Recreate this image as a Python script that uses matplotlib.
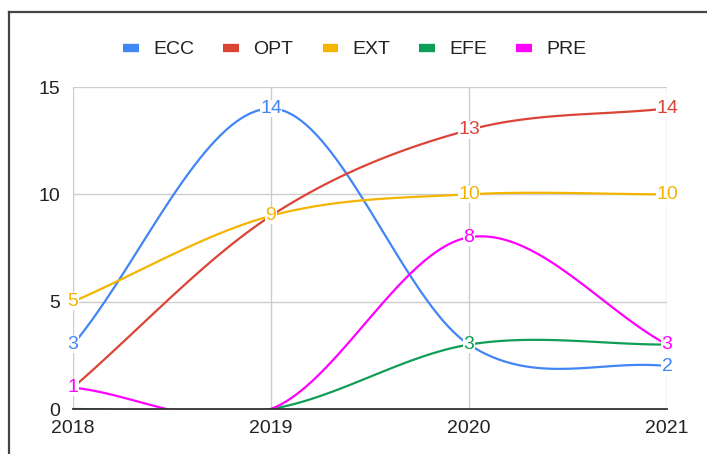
import numpy as np
import matplotlib.pyplot as plt
from matplotlib.lines import Line2D

plt.rcParams['font.family'] = ['Liberation Sans', 'DejaVu Sans']

years = [2018, 2019, 2020, 2021]
names = ['ECC', 'OPT', 'EXT', 'EFE', 'PRE']
ecc = [3, 14, 3, 2]
opt = [1, 9, 13, 14]
ext = [5, 9, 10, 10]
efe = [0, 0, 3, 3]
pre = [1, 0, 8, 3]
colors = ['#4285F4', '#DB4437', '#F4B400', '#0F9D58', '#FF00FF']
series = [ecc, opt, ext, efe, pre]


def smooth(x, y, n=40):
    # cubic hermite through the points, like the sheets "smooth" option
    x = np.asarray(x, float)
    y = np.asarray(y, float)
    m = np.zeros_like(y)
    m[1:-1] = (y[2:] - y[:-2]) / (x[2:] - x[:-2])
    m[0] = (y[1] - y[0]) / (x[1] - x[0])
    m[-1] = (y[-1] - y[-2]) / (x[-1] - x[-2])
    xs, ys = [], []
    for i in range(len(x) - 1):
        h = x[i + 1] - x[i]
        t = np.linspace(0, 1, n)
        h00 = 2 * t**3 - 3 * t**2 + 1
        h10 = t**3 - 2 * t**2 + t
        h01 = -2 * t**3 + 3 * t**2
        h11 = t**3 - t**2
        xs.append(x[i] + t * h)
        ys.append(h00 * y[i] + h10 * h * m[i] + h01 * y[i + 1] + h11 * h * m[i + 1])
    return np.concatenate(xs), np.concatenate(ys)


fig = plt.figure(figsize=(7.07, 4.54), dpi=100)
ax = fig.add_axes([73 / 707, 1 - 409 / 454, 594 / 707, 322 / 454])

for vals, c, name in zip(series, colors, names):
    sx, sy = smooth(years, vals)
    ax.plot(sx, sy, color=c, lw=1.6, label=name, zorder=3, solid_capstyle='round')

for vals, c in zip(series, colors):
    for xv, yv in zip(years, vals):
        if yv == 0:
            continue
        ax.text(xv, yv, str(yv), color=c, fontsize=14, ha='center', va='center',
                zorder=5, bbox=dict(facecolor='white', edgecolor='none', pad=0.1))

ax.set_xlim(2018, 2021)
ax.set_ylim(0, 15)
ax.set_xticks(years)
ax.set_xticklabels([str(y) for y in years])
ax.set_yticks([0, 5, 10, 15])
ax.grid(True, color='#cccccc', lw=1)
ax.set_axisbelow(True)
for s in ['top', 'right', 'left']:
    ax.spines[s].set_visible(False)
ax.spines['bottom'].set_color('#333333')
ax.spines['bottom'].set_linewidth(1.3)
ax.spines['bottom'].set_zorder(4)
ax.tick_params(length=0, labelsize=14, colors='#222222')
ax.tick_params(axis='y', pad=9)
ax.tick_params(axis='x', pad=8)

fig.legend(loc='center', bbox_to_anchor=(0.502, 1 - 50 / 454), ncol=5, frameon=False,
           fontsize=14, handlelength=0.82, handletextpad=0.72, columnspacing=1.5,
           handleheight=0.5)
leg = fig.legends[0]
for h in leg.legend_handles:
    h.set_linewidth(6)
    h.set_solid_capstyle('butt')
for t in leg.get_texts():
    t.set_color('#222222')

# frame of the screenshot
fig.add_artist(Line2D([9 / 707, 9 / 707], [0, 1 - 12 / 454], color='#444444', lw=1.6))
fig.add_artist(Line2D([9 / 707, 1], [1 - 12 / 454, 1 - 12 / 454], color='#444444', lw=1.6))

fig.savefig('out.png', dpi=100)
